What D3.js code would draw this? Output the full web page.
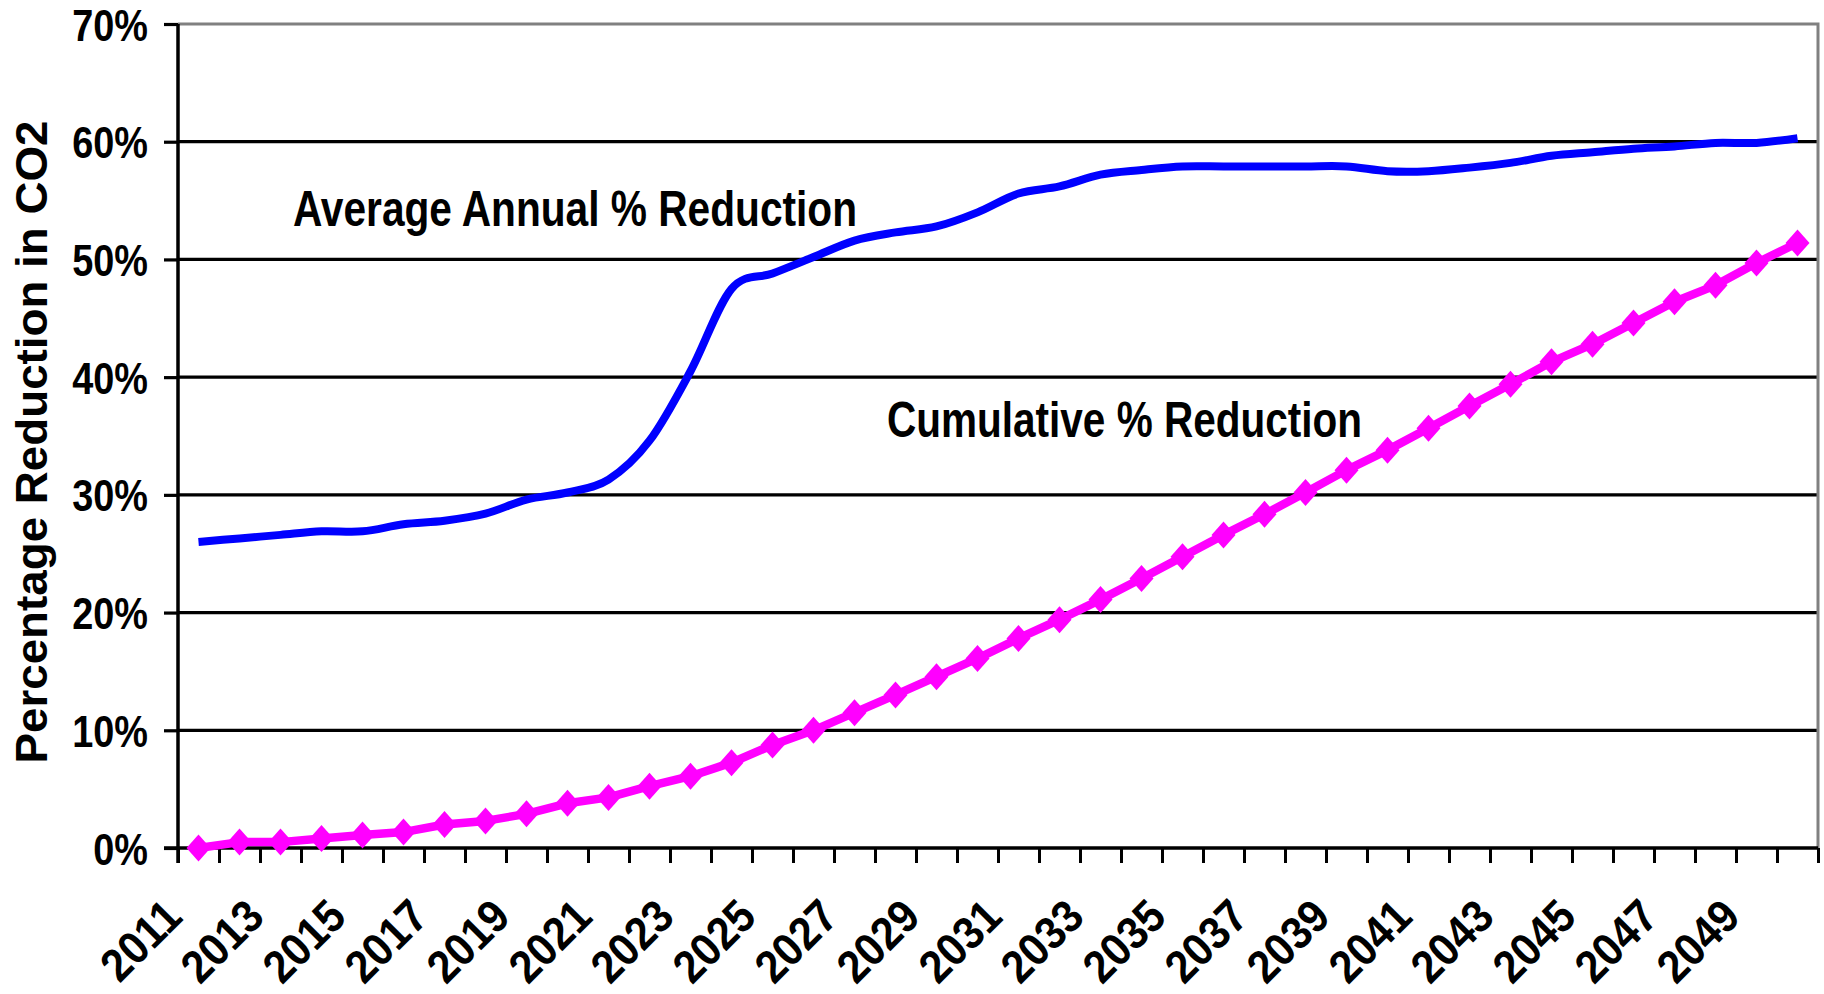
<!DOCTYPE html>
<html>
<head>
<meta charset="utf-8">
<script src="https://cdn.jsdelivr.net/npm/d3@7"></script>
<style>
  html, body { margin: 0; padding: 0; background: #fff; }
  svg { display: block; }
  text { font-family: "Liberation Sans", Arial, sans-serif; font-weight: bold; fill: #000; }
</style>
</head>
<body>
<svg id="chart" width="1824" height="994"></svg>
<script>
// Years on the category axis
const years = [2011, 2012, 2013, 2014, 2015, 2016, 2017, 2018, 2019, 2020,
               2021, 2022, 2023, 2024, 2025, 2026, 2027, 2028, 2029, 2030,
               2031, 2032, 2033, 2034, 2035, 2036, 2037, 2038, 2039, 2040,
               2041, 2042, 2043, 2044, 2045, 2046, 2047, 2048, 2049, 2050];

// Labelled years (every other category)
const yearLabels = [2011, 2013, 2015, 2017, 2019, 2021, 2023, 2025, 2027, 2029,
                    2031, 2033, 2035, 2037, 2039, 2041, 2043, 2045, 2047, 2049];

// Percentage-axis ticks
const pctTicks = [0, 0.1, 0.2, 0.3, 0.4, 0.5, 0.6, 0.7];

// Average annual % reduction in CO2 (smoothed line)
const annualReduction = [26.0, 26.3, 26.6, 26.9, 26.9, 27.5, 27.8, 28.4, 29.6, 30.2,
                         31.3, 34.6, 40.5, 47.5, 48.8, 50.2, 51.6, 52.3, 52.8, 54.0,
                         55.6, 56.2, 57.2, 57.6, 57.9, 57.9, 57.9, 57.9, 57.9, 57.5,
                         57.5, 57.8, 58.2, 58.8, 59.1, 59.4, 59.6, 59.9, 59.9, 60.3];

// Cumulative % reduction in CO2 (line with diamond markers)
const cumulativeReduction = [0.0, 0.5, 0.5, 0.8, 1.1, 1.35, 2.0, 2.3, 2.9, 3.8,
                             4.3, 5.25, 6.1, 7.25, 8.75, 10.0, 11.5, 13.0, 14.55, 16.1,
                             17.8, 19.4, 21.1, 22.9, 24.75, 26.6, 28.35, 30.2, 32.1, 33.8,
                             35.65, 37.55, 39.4, 41.3, 42.8, 44.6, 46.4, 47.8, 49.7, 51.4];

const yTitle = "Percentage Reduction in CO2";
const annualLabel = "Average Annual % Reduction";
const cumulativeLabel = "Cumulative % Reduction";

// ---- layout ----
const plot = { left: 178, right: 1818, top: 24, bottom: 848 };
const svg = d3.select("#chart");

const x = d3.scaleBand().domain(years).range([plot.left, plot.right]).padding(0);
const xEdge = d3.scaleLinear().domain([0, years.length]).range([plot.left, plot.right]);
const y = d3.scaleLinear().domain([0, 0.7]).range([plot.bottom, plot.top]);
const cx = d => x(d) + x.bandwidth() / 2;

// Squeeze text along its baseline to a fraction of its natural width
function condense(sel, f) {
  sel.each(function () {
    const w = this.getComputedTextLength();
    this.setAttribute("textLength", w * f);
    this.setAttribute("lengthAdjust", "spacingAndGlyphs");
  });
}

// Horizontal gridlines
svg.append("g")
  .selectAll("line")
  .data(pctTicks.filter(v => v > 0 && v < 0.7))
  .join("line")
  .attr("x1", plot.left).attr("x2", plot.right)
  .attr("y1", d => y(d)).attr("y2", d => y(d))
  .attr("stroke", "#000").attr("stroke-width", 3.2);

// Plot-area border (top and right)
svg.append("path")
  .attr("d", `M${plot.left},${y(0.7)}H${plot.right}V${plot.bottom}`)
  .attr("fill", "none").attr("stroke", "#808080").attr("stroke-width", 3);

// Y axis
const yAxis = svg.append("g")
  .attr("transform", `translate(${plot.left},0)`)
  .call(d3.axisLeft(y).tickValues(pctTicks).tickFormat(d3.format(".0%")).tickSize(14));
yAxis.select(".domain").attr("stroke", "#000").attr("stroke-width", 3.5)
  .attr("d", `M0,${plot.top}V${plot.bottom + 15}`);
yAxis.selectAll(".tick line").attr("stroke", "#000").attr("stroke-width", 3.2);
yAxis.selectAll(".tick text")
  .attr("font-size", 44).attr("dy", null)
  .attr("y", 16).attr("x", -30)
  .call(condense, 0.86);

// X axis: tick marks on category boundaries
const xAxis = svg.append("g")
  .attr("transform", `translate(0,${plot.bottom})`)
  .call(d3.axisBottom(xEdge).tickValues(d3.range(years.length + 1)).tickFormat("").tickSize(15).tickSizeOuter(0));
xAxis.select(".domain").attr("stroke", "#000").attr("stroke-width", 3.5)
  .attr("d", `M${plot.left - 14},0H${plot.right}`);
xAxis.selectAll(".tick line").attr("stroke", "#000").attr("stroke-width", 3);

// Rotated year labels
svg.append("g")
  .selectAll("text")
  .data(yearLabels)
  .join("text")
  .attr("text-anchor", "end")
  .attr("font-size", 46)
  .attr("transform", d => `translate(${cx(d) - 14},${919}) rotate(-45)`)
  .text(d => d)
  .call(condense, 0.92);

// Y axis title
svg.append("text")
  .attr("text-anchor", "middle")
  .attr("font-size", 44)
  .attr("transform", `translate(47,${442}) rotate(-90)`)
  .attr("textLength", 643).attr("lengthAdjust", "spacingAndGlyphs")
  .text(yTitle);

// Average annual reduction: smoothed blue line
const annualLine = d3.line()
  .x((d, i) => cx(years[i]))
  .y(d => y(d / 100))
  .curve(d3.curveCardinal.tension(0));
svg.append("path")
  .datum(annualReduction)
  .attr("d", annualLine)
  .attr("fill", "none").attr("stroke", "#0000ff").attr("stroke-width", 8)
  .attr("stroke-linejoin", "round");

// Cumulative reduction: magenta line with diamonds
const cumLine = d3.line()
  .x((d, i) => cx(years[i]))
  .y(d => y(d / 100));
svg.append("path")
  .datum(cumulativeReduction)
  .attr("d", cumLine)
  .attr("fill", "none").attr("stroke", "#ff00ff").attr("stroke-width", 8.5)
  .attr("stroke-linejoin", "round");
svg.append("g")
  .selectAll("path")
  .data(cumulativeReduction)
  .join("path")
  .attr("transform", (d, i) => `translate(${cx(years[i])},${y(d / 100)})`)
  .attr("d", "M0,-13.5L12,0L0,13.5L-12,0Z")
  .attr("fill", "#ff00ff");

// Series labels
svg.append("text")
  .attr("x", 293).attr("y", 226)
  .attr("font-size", 50)
  .attr("textLength", 564).attr("lengthAdjust", "spacingAndGlyphs")
  .text(annualLabel);
svg.append("text")
  .attr("x", 887).attr("y", 437)
  .attr("font-size", 50)
  .attr("textLength", 475).attr("lengthAdjust", "spacingAndGlyphs")
  .text(cumulativeLabel);
</script>
</body>
</html>
